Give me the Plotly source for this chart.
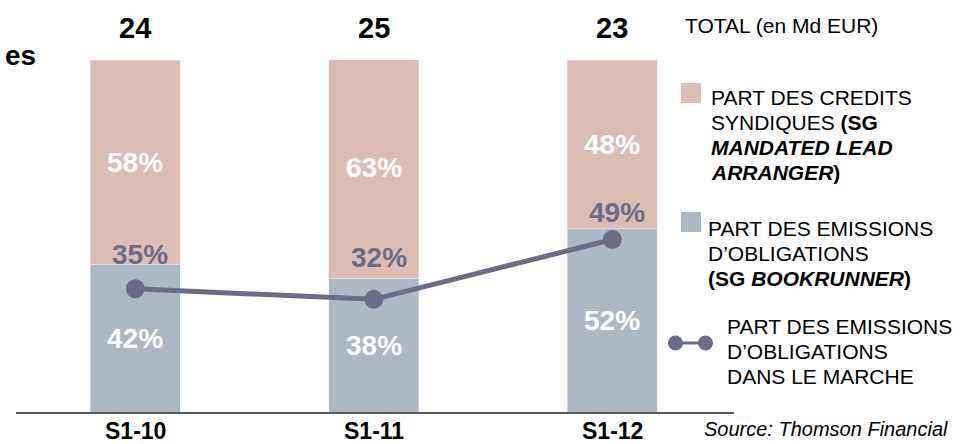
import plotly.graph_objects as go

# ---- data ----
categories = ["S1-10", "S1-11", "S1-12"]
totals = [24, 25, 23]                 # TOTAL (en Md EUR)
bond_share = [42, 38, 52]             # part des emissions d'obligations (SG bookrunner)
credit_share = [58, 63, 48]           # part des credits syndiques (SG MLA)
market_share = [35, 32, 49]           # part des emissions d'obligations dans le marche

legend_total = "TOTAL (en Md EUR)"
legend_credit = ["PART DES CREDITS", "SYNDIQUES <b>(SG</b>",
                 "<b><i>MANDATED LEAD</i></b>", "<b><i>ARRANGER</i>)</b>"]
legend_bond = ["PART DES EMISSIONS", "D\u2019OBLIGATIONS",
               "<b>(SG <i>BOOKRUNNER</i>)</b>"]
legend_market = ["PART DES EMISSIONS", "D\u2019OBLIGATIONS", "DANS LE MARCHE"]
source_text = "<i>Source: Thomson Financial</i>"
title_fragment = "es"

# ---- style ----
PINK = "#dbbdb5"
GREY = "#aeb8c3"
LINE = "#6d6c88"
FONT = "Liberation Sans, Arial, sans-serif"
W, H = 964, 444
L, R, T, B = 16, 230, 60, 32
PW, PH = W - L - R, H - T - B


def px(x):
    return (x - L) / PW


def py(y):
    return (H - B - y) / PH


xs = list(range(len(categories)))

fig = go.Figure()
fig.add_bar(x=xs, y=bond_share, marker_color=GREY, width=0.377,
            showlegend=False, hoverinfo="skip")
fig.add_bar(x=xs, y=credit_share, marker_color=PINK, width=0.377,
            showlegend=False, hoverinfo="skip")
fig.add_scatter(x=xs, y=market_share, mode="lines+markers",
                line=dict(color=LINE, width=5),
                marker=dict(color=LINE, size=19),
                showlegend=False, hoverinfo="skip", cliponaxis=False)

ann = []
# segment labels
for i in range(len(xs)):
    ann.append(dict(x=xs[i], y=bond_share[i] / 2, xref="x", yref="y",
                    text=f"<b>{bond_share[i]}%</b>", showarrow=False,
                    font=dict(family=FONT, size=28, color="white")))
    ann.append(dict(x=xs[i], y=bond_share[i] + credit_share[i] / 2,
                    xref="x", yref="y",
                    text=f"<b>{credit_share[i]}%</b>", showarrow=False,
                    font=dict(family=FONT, size=28, color="white")))
# line labels
label_shift = [34, 42, 27]
for i, v in enumerate(market_share):
    ann.append(dict(x=xs[i], y=v, xref="x", yref="y", text=f"<b>{v}%</b>",
                    showarrow=False, yshift=label_shift[i], xshift=5,
                    font=dict(family=FONT, size=28, color=LINE)))
# totals
for i, v in enumerate(totals):
    ann.append(dict(x=xs[i], y=100, xref="x", yref="y", text=f"<b>{v}</b>",
                    showarrow=False, yshift=32,
                    font=dict(family=FONT, size=29, color="black")))
# categories
for i, c in enumerate(categories):
    ann.append(dict(x=xs[i], y=0, xref="x", yref="y", text=f"<b>{c}</b>",
                    showarrow=False, yshift=-19,
                    font=dict(family=FONT, size=23, color="black")))


def txt(x, y, s, size=21, xanchor="left", color="black"):
    ann.append(dict(x=px(x), y=py(y), xref="paper", yref="paper", text=s,
                    showarrow=False, xanchor=xanchor, yanchor="middle",
                    font=dict(family=FONT, size=size, color=color)))


txt(683, 26, legend_total)
for k, s in enumerate(legend_credit):
    txt(709, 97 + 25 * k, s)
for k, s in enumerate(legend_bond):
    txt(706, 228 + 25 * k, s)
for k, s in enumerate(legend_market):
    txt(725, 326 + 25 * k, s)
txt(702, 429, source_text, size=20)
txt(38, 56, f"<b>{title_fragment}</b>", size=28, xanchor="right")

shapes = [
    dict(type="rect", xref="paper", yref="paper", x0=px(681), x1=px(701),
         y0=py(103), y1=py(83), fillcolor=PINK, line_width=0),
    dict(type="rect", xref="paper", yref="paper", x0=px(681), x1=px(701),
         y0=py(232), y1=py(212), fillcolor=GREY, line_width=0),
    dict(type="line", xref="paper", yref="paper", x0=px(675), x1=px(705),
         y0=py(343), y1=py(343), line=dict(color=LINE, width=3)),
    dict(type="circle", xref="paper", yref="paper", x0=px(668), x1=px(683),
         y0=py(350.5), y1=py(335.5), fillcolor=LINE, line_width=0),
    dict(type="circle", xref="paper", yref="paper", x0=px(698), x1=px(713),
         y0=py(350.5), y1=py(335.5), fillcolor=LINE, line_width=0),
]

fig.update_layout(
    width=W, height=H, barmode="stack",
    margin=dict(l=L, r=R, t=T, b=B, autoexpand=False),
    paper_bgcolor="white", plot_bgcolor="white",
    xaxis=dict(range=[-0.5, 2.51], showticklabels=False, showgrid=False,
               zeroline=False, showline=True, linecolor="#595959",
               linewidth=1.5, fixedrange=True),
    yaxis=dict(range=[0, 100], visible=False, fixedrange=True),
    annotations=ann, shapes=shapes,
    font=dict(family=FONT),
)

fig.write_html("out.html", config={"displayModeBar": False},
               post_script="document.body.style.margin='0';"
                           "document.body.style.overflow='hidden';")
